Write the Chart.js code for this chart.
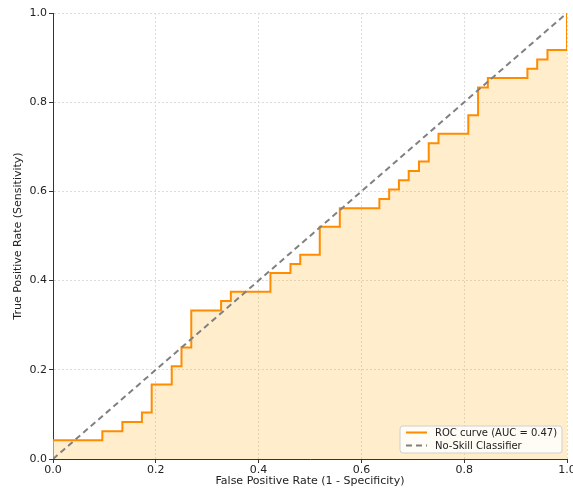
<!DOCTYPE html>
<html>
<head>
<meta charset="utf-8">
<script src="https://cdn.jsdelivr.net/npm/chart.js@4.4.1/dist/chart.umd.min.js"></script>
<style>
  html, body { margin: 0; padding: 0; background: #ffffff; }
  #wrap { position: relative; width: 573px; height: 490px; }
</style>
</head>
<body>
<div id="wrap"><canvas id="c" width="573" height="490"></canvas></div>
<script>
// ROC curve corner points (false positive rate, true positive rate)
const fpr = [0, 0, 0.096, 0.096, 0.135, 0.135, 0.173, 0.173, 0.192, 0.192, 0.231, 0.231, 0.25, 0.25,
  0.269, 0.269, 0.327, 0.327, 0.346, 0.346, 0.423, 0.423, 0.462, 0.462, 0.481, 0.481, 0.519, 0.519,
  0.558, 0.558, 0.635, 0.635, 0.654, 0.654, 0.673, 0.673, 0.692, 0.692, 0.712, 0.712, 0.731, 0.731,
  0.75, 0.75, 0.808, 0.808, 0.827, 0.827, 0.846, 0.846, 0.923, 0.923, 0.942, 0.942, 0.962, 0.962, 1, 1];
const tpr = [0, 0.042, 0.042, 0.0625, 0.0625, 0.083, 0.083, 0.104, 0.104, 0.167, 0.167, 0.208, 0.208,
  0.25, 0.25, 0.333, 0.333, 0.354, 0.354, 0.375, 0.375, 0.417, 0.417, 0.4375, 0.4375, 0.458, 0.458,
  0.521, 0.521, 0.5625, 0.5625, 0.583, 0.583, 0.604, 0.604, 0.625, 0.625, 0.646, 0.646, 0.667, 0.667,
  0.708, 0.708, 0.729, 0.729, 0.771, 0.771, 0.833, 0.833, 0.854, 0.854, 0.875, 0.875, 0.896, 0.896,
  0.917, 0.917, 1.0];
// No-skill diagonal
const diagX = [0, 1];
const diagY = [0, 1];
// Tick values
const tickValues = [0, 0.2, 0.4, 0.6, 0.8, 1.0];
const rocLabel = 'ROC curve (AUC = 0.47)';
const diagLabel = 'No-Skill Classifier';
const xTitle = 'False Positive Rate (1 - Specificity)';
const yTitle = 'True Positive Rate (Sensitivity)';

const FONT = "'DejaVu Sans', 'Liberation Sans', sans-serif";

const rocData = fpr.map((x, i) => ({ x: x, y: tpr[i] }));
const diagData = diagX.map((x, i) => ({ x: x, y: diagY[i] }));

const legendPlugin = {
  id: 'mplLegend',
  afterDraw(chart) {
    const ctx = chart.ctx;
    const a = chart.chartArea;
    const w = 162, h = 27;
    const x0 = a.right - 167, y0 = a.bottom - 33;
    ctx.save();
    const r = 3;
    ctx.beginPath();
    ctx.moveTo(x0 + r, y0);
    ctx.lineTo(x0 + w - r, y0);
    ctx.quadraticCurveTo(x0 + w, y0, x0 + w, y0 + r);
    ctx.lineTo(x0 + w, y0 + h - r);
    ctx.quadraticCurveTo(x0 + w, y0 + h, x0 + w - r, y0 + h);
    ctx.lineTo(x0 + r, y0 + h);
    ctx.quadraticCurveTo(x0, y0 + h, x0, y0 + h - r);
    ctx.lineTo(x0, y0 + r);
    ctx.quadraticCurveTo(x0, y0, x0 + r, y0);
    ctx.closePath();
    ctx.fillStyle = 'rgba(255,255,255,0.8)';
    ctx.fill();
    ctx.strokeStyle = '#d0d0d0';
    ctx.lineWidth = 1;
    ctx.stroke();
    const ds = chart.data.datasets;
    const rows = [y0 + 6.5, y0 + 19.5];
    ds.forEach((d, i) => {
      const yy = rows[i];
      ctx.beginPath();
      ctx.setLineDash(d.borderDash || []);
      ctx.strokeStyle = d.borderColor;
      ctx.lineWidth = d.borderWidth;
      ctx.moveTo(x0 + 6, yy);
      ctx.lineTo(x0 + 27, yy);
      ctx.stroke();
      ctx.setLineDash([]);
      ctx.fillStyle = '#222';
      ctx.font = '10px ' + FONT;
      ctx.textBaseline = 'middle';
      ctx.textAlign = 'left';
      ctx.fillText(d.label, x0 + 35, yy + 0.5);
    });
    ctx.restore();
  }
};

new Chart(document.getElementById('c'), {
  type: 'line',
  data: {
    datasets: [
      {
        label: rocLabel,
        data: rocData,
        borderColor: '#ff8c00',
        borderWidth: 2,
        backgroundColor: 'rgba(255,165,0,0.2)',
        fill: 'origin',
        pointRadius: 0,
        tension: 0,
        order: 1
      },
      {
        label: diagLabel,
        data: diagData,
        borderColor: '#808080',
        borderWidth: 2,
        borderDash: [6, 4],
        fill: false,
        pointRadius: 0,
        tension: 0,
        order: 0
      }
    ]
  },
  options: {
    responsive: false,
    animation: false,
    events: [],
    layout: { padding: { top: 13, right: 6, left: 12, bottom: 2 } },
    plugins: {
      legend: { display: false },
      tooltip: { enabled: false }
    },
    scales: {
      x: {
        type: 'linear',
        min: 0, max: 1,
        afterBuildTicks(s) { s.ticks = tickValues.map(v => ({ value: v })); },
        afterFit(s) { s.height = 29; s.paddingLeft = 0; s.paddingRight = 0; },
        ticks: {
          font: { family: FONT, size: 11 },
          color: '#222',
          padding: 1,
          maxRotation: 0,
          callback: v => v.toFixed(1)
        },
        grid: {
          color: '#dcdcdc',
          lineWidth: 1,
          tickColor: '#333',
          tickLength: 4,
          tickBorderDash: [],
          drawTicks: true
        },
        border: { display: true, color: '#333', width: 1, dash: [2, 2] },
        title: {
          display: true, text: xTitle,
          font: { family: FONT, size: 11 }, color: '#222',
          padding: { top: 0, bottom: 0 }
        }
      },
      y: {
        type: 'linear',
        min: 0, max: 1,
        afterBuildTicks(s) { s.ticks = tickValues.map(v => ({ value: v })); },
        afterFit(s) { s.width = 41; s.paddingTop = 0; s.paddingBottom = 0; },
        ticks: {
          font: { family: FONT, size: 11 },
          color: '#222',
          padding: 2,
          callback: v => v.toFixed(1)
        },
        grid: {
          color: '#dcdcdc',
          lineWidth: 1,
          tickColor: '#333',
          tickLength: 4,
          tickBorderDash: [],
          drawTicks: true
        },
        border: { display: true, color: '#333', width: 1, dash: [2, 2] },
        title: {
          display: true, text: yTitle,
          font: { family: FONT, size: 11 }, color: '#222',
          padding: { top: 0, bottom: 0 }
        }
      }
    }
  },
  plugins: [legendPlugin]
});
</script>
</body>
</html>
